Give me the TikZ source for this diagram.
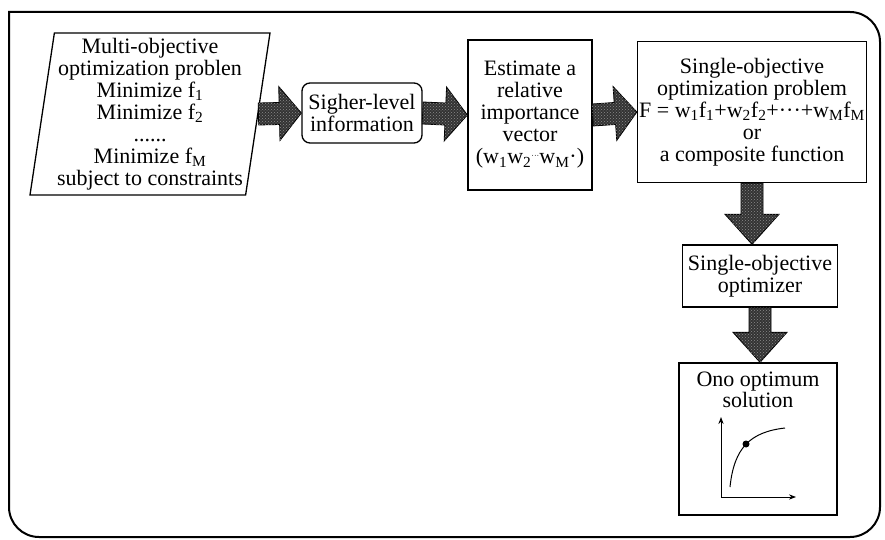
\documentclass[tikz,border=0pt]{standalone}
\usepackage{fontspec}
\setmainfont{Liberation Serif}
\usepackage{tikz}
\usetikzlibrary{shapes.geometric}
\usetikzlibrary{calc}
\usetikzlibrary{arrows.meta}
\usetikzlibrary{patterns}

\tikzset{
    box/.style={draw, line width=1.3pt, align=center, inner sep=1pt,
        font=\fontsize{22}{22}\selectfont},
    fat/.style={draw=black, line width=0.8pt, fill=black!80,
        postaction={pattern=crosshatch dots, pattern color=black!45},
        to path={($(\tikztostart)!11pt!90:(\tikztotarget)$)
            -- ($($(\tikztotarget)!#1!(\tikztostart)$)!11pt!90:(\tikztotarget)$)
            -- ($($(\tikztotarget)!#1!(\tikztostart)$)!27pt!90:(\tikztotarget)$)
            -- (\tikztotarget)
            -- ($($(\tikztotarget)!#1!(\tikztostart)$)!27pt!-90:(\tikztotarget)$)
            -- ($($(\tikztotarget)!#1!(\tikztostart)$)!11pt!-90:(\tikztotarget)$)
            -- ($(\tikztostart)!11pt!-90:(\tikztotarget)$) -- cycle}},
    fat/.default=22pt
}

\begin{document}
\begin{tikzpicture}[x=1pt, y=-1pt]
    \useasboundingbox (0,0) rectangle (885,540);
    \draw[line width=2pt] (440,537) [rounded corners=30pt] -- (9,537) [sharp corners]
        -- (9,12) [rounded corners=30pt] -- (880,12) -- (880,537) -- cycle;
    \node[box, trapezium, trapezium left angle=81, trapezium right angle=99,
        trapezium stretches body, minimum width=240pt, minimum height=162pt]
        (multi) at (150,114)
        {Multi-objective\\optimization problen\\Minimize f\textsubscript{1}\\
         Minimize f\textsubscript{2}\\......\\Minimize f\textsubscript{M}\\subject to constraints};
    \node[box, rounded corners=8pt, minimum width=120pt, minimum height=60pt]
        (higher) at (362,113) {Sigher-level\\information};
    \node[box, minimum width=124pt, minimum height=150pt]
        (weights) at (530,115)
        {Estimate a\\relative\\importance\\vector\\
         (w\textsubscript{1}w\textsubscript{2}\raisebox{0.5ex}{\footnotesize···}w\textsubscript{M}·)};
    \node[box, minimum width=229pt, minimum height=141pt]
        (single) at (752,112)
        {Single-objective\\optimization problem\\
         F = w\textsubscript{1}f\textsubscript{1}+w\textsubscript{2}f\textsubscript{2}+···+w\textsubscript{M}f\textsubscript{M}\\
         or\\a composite function};
    \node[box, minimum width=155pt, minimum height=62pt]
        (optimizer) at (760,276) {Single-objective\\optimizer};
    \node[box, minimum width=158pt, minimum height=152pt,
        label={[font=\fontsize{22}{21}\selectfont, align=center, anchor=north, yshift=-6pt]north:Ono optimum\\solution}]
        (solution) at (758,439) {};
    \draw[fat] (multi.east) to (higher.west);
    \draw[fat] (higher.east) to (weights.west);
    \draw[fat] (weights.east) to (single.west);
    \draw[fat=30pt] (single.south) to (single.south |- optimizer.north);
    \draw[fat=30pt] (optimizer.south) to (optimizer.south |- solution.north);
    \draw[-{Stealth[length=7pt]}, line width=1pt] (721,497) -- (721,417);
    \draw[-{Stealth[length=7pt]}, line width=1pt] (721,497) -- (796,497);
    \draw[line width=1pt] (730,487) .. controls (734,448) and (750,432) .. (785,428);
    \fill (746,444) circle (3.5pt);
\end{tikzpicture}
\end{document}
